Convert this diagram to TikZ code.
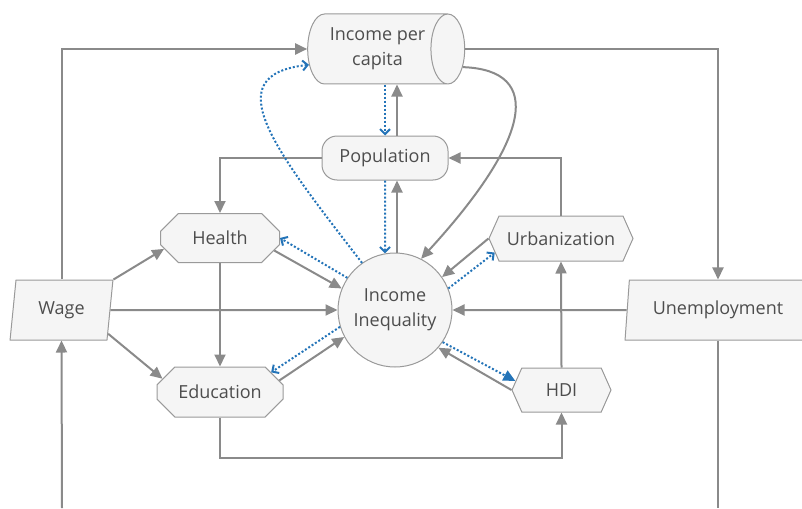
\documentclass[tikz,border=0pt]{standalone}
\usepackage{fontspec}
\setmainfont{Open Sans}
\usetikzlibrary{shapes.geometric,shapes.misc,shapes.symbols,arrows.meta}
\definecolor{boxfill}{HTML}{F5F5F5}
\definecolor{boxline}{HTML}{9A9A9A}
\definecolor{arrgray}{HTML}{8A8A8A}
\definecolor{fbblue}{HTML}{2474B8}
\definecolor{txt}{HTML}{4D4D4D}

\begin{document}
\begin{tikzpicture}[x=1pt, y=-1pt,
  box/.style = {draw=boxline, fill=boxfill, line width=1pt, text=txt, font=\fontsize{18}{25}\selectfont, inner sep=0pt, align=center},
  arr/.style = {draw=arrgray, line width=2pt, -{Triangle[length=12pt,width=11pt]}},
  fb/.style = {draw=fbblue, line width=2pt, dash pattern=on 2pt off 2pt, -{Straight Barb[length=5pt,width=10pt]}},
  fbfill/.style = {fb, -{Triangle[length=12pt,width=11pt]}}]
  \clip (0,0) rectangle (802,508);
  \node[box, cylinder, aspect=0.8, minimum width=70pt, minimum height=157pt] (inc) at (377.5,49) {Income per\\capita};
  \node[box, rectangle, rounded corners=15pt, minimum width=126pt, minimum height=44pt] (pop) at (385,158) {Population};
  \node[box, chamfered rectangle, chamfered rectangle xsep=11pt, chamfered rectangle ysep=11pt, minimum width=119pt, minimum height=49pt] (hea) at (220,238) {Health};
  \node[box, chamfered rectangle, chamfered rectangle xsep=11pt, chamfered rectangle ysep=11pt, minimum width=126pt, minimum height=50pt] (edu) at (220,392) {Education};
  \node[box, trapezium, trapezium left angle=80, trapezium right angle=100, trapezium stretches=true, minimum width=103pt, minimum height=60pt] (wag) at (61.5,310) {Wage};
  \node[box, trapezium, trapezium left angle=80, trapezium right angle=100, trapezium stretches=true, minimum width=186pt, minimum height=60pt] (une) at (718,310) {Unemployment};
  \node[box, circle, minimum size=114pt] (ine) at (395,310) {Income\\Inequality};
  \node[box, signal, signal to=west and east, signal pointer angle=132, minimum width=144pt, minimum height=45pt] (urb) at (561,238.5) {Urbanization};
  \node[box, signal, signal to=west and east, signal pointer angle=132, minimum width=99pt, minimum height=44pt] (hdi) at (561.5,390) {HDI};
  \coordinate (wb) at (62,508);
  \coordinate (ub) at (718,508);
  \draw[arr] (wag.center |- wag.north) |- (inc.west);
  \draw[arr] (wb) -- (wag.center |- wag.south);
  \draw[arr] (inc.east) -| (une.center |- une.north);
  \draw[draw=arrgray, line width=2pt] (une.center |- une.south) -- (ub);
  \draw[arr] (inc.-12) .. controls (545,70) and (530,140) .. (ine.63);
  \draw[arr] ([xshift=12pt]pop.north) -- ([xshift=12pt]pop.north |- inc.south);
  \draw[fb] (pop.north |- inc.south) -- (pop.north);
  \draw[arr] (ine.88) -- (ine.88 |- pop.south);
  \draw[fb] (pop.south) -- (ine.100);
  \draw[arr] (pop.west) -| (hea.north);
  \draw[arr] (urb.north) |- (pop.east);
  \draw[arr] (hea.south) -- (edu.north);
  \draw[arr] (edu.south) -- ++(0,40) -| (hdi.south);
  \draw[arr] (hdi.north) -- (urb.south);
  \draw[arr] (wag.top right corner) -- (hea.191);
  \draw[arr] (wag.east) -- (ine.west);
  \draw[arr] (wag.-27) -- (edu.167);
  \draw[arr] (hea.-13) -- (ine.158);
  \draw[arr] (edu.11) -- (ine.208);
  \draw[arr] (une.west) -- (ine.east);
  \draw[arr] (urb.west) -- (ine.35);
  \draw[arr] (hdi.west) -- (ine.-41);
  \draw[fb] (ine.146) -- (hea.east);
  \draw[fb] (ine.197) -- (edu.21);
  \draw[fb] (ine.22) -- (urb.192);
  \draw[fbfill] (ine.-34) -- (hdi.169);
  \draw[fb] (ine.125) .. controls (275,150) and (215,75) .. (inc.193);
\end{tikzpicture}
\end{document}
